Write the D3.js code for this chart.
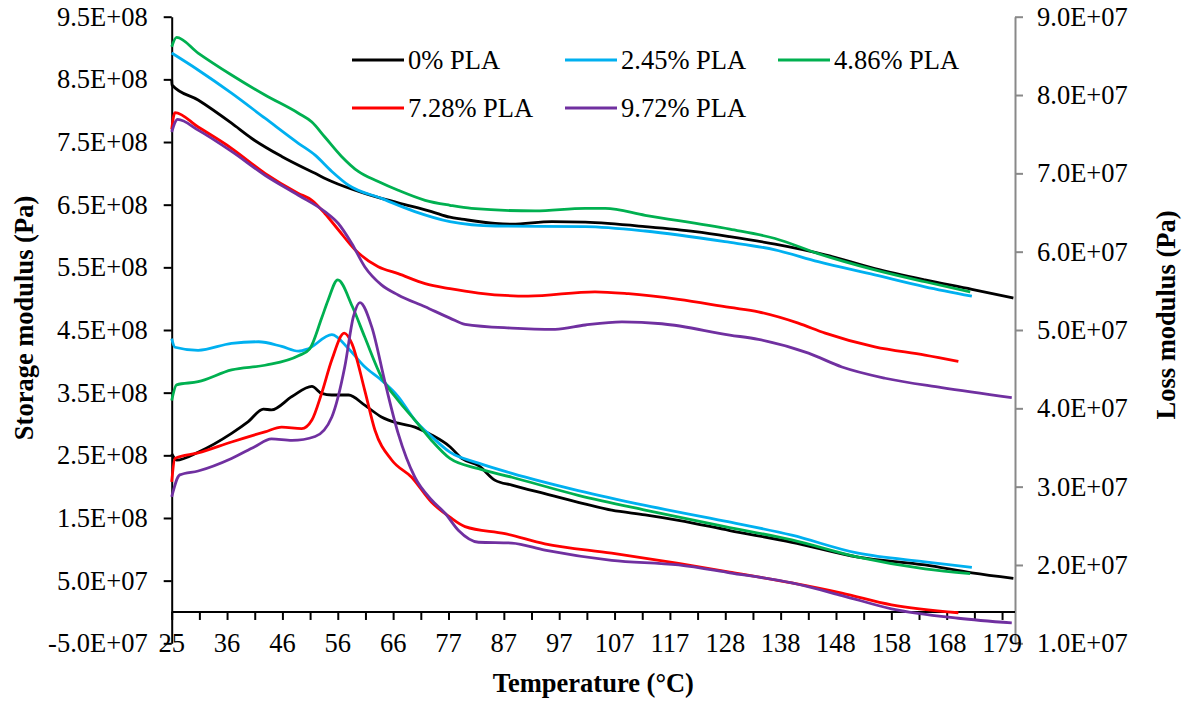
<!DOCTYPE html>
<html>
<head>
<meta charset="utf-8">
<script src="https://cdn.jsdelivr.net/npm/d3@7"></script>
<style>
  body { margin: 0; background: #fff; }
  text { font-family: "Liberation Serif", "Times New Roman", serif; }
</style>
</head>
<body>
<div id="chart"></div>
<script>
// category labels shown under the x axis
const xTickLabels = ["25","36","46","56","66","77","87","97","107","117","128","138","148","158","168","179"];

const seriesNames = ["0% PLA", "2.45% PLA", "4.86% PLA", "7.28% PLA", "9.72% PLA"];
const seriesColors = ["#000000", "#00B0F0", "#00B050", "#FF0000", "#7030A0"];

// storage modulus E' (Pa) vs temperature (°C)
const storage0 = [[25.0,8.49e8],[25.06,8.41e8],[29.9,8.17e8],[36.1,7.80e8],[39.8,7.56e8],[45.4,7.27e8],[51.6,7.00e8],[54.7,6.87e8],[60.8,6.68e8],[67.0,6.53e8],[73.2,6.39e8],[76.6,6.30e8],[78.8,6.27e8],[85.0,6.20e8],[88.1,6.19e8],[95.5,6.23e8],[101.7,6.22e8],[112.8,6.15e8],[122.1,6.07e8],[128.5,5.99e8],[136.9,5.87e8],[146.2,5.70e8],[155.4,5.48e8],[164.7,5.30e8],[173.4,5.15e8],[181.1,5.01e8]];
const storage245 = [[25.0,8.92e8],[29.9,8.65e8],[36.1,8.28e8],[42.3,7.88e8],[48.5,7.48e8],[51.6,7.29e8],[54.7,7.03e8],[57.8,6.81e8],[63.9,6.60e8],[70.1,6.39e8],[76.6,6.23e8],[85.0,6.16e8],[101.7,6.15e8],[112.8,6.08e8],[127.6,5.91e8],[136.9,5.78e8],[144.9,5.59e8],[155.4,5.38e8],[164.7,5.19e8],[173.4,5.04e8]];
const storage486 = [[25.0,9.02e8],[25.9,9.17e8],[29.9,8.92e8],[36.1,8.57e8],[42.3,8.25e8],[48.5,7.96e8],[51.0,7.82e8],[53.4,7.58e8],[56.5,7.27e8],[59.6,7.03e8],[63.3,6.87e8],[67.0,6.73e8],[72.0,6.57e8],[76.6,6.49e8],[80.6,6.44e8],[92.4,6.40e8],[101.7,6.44e8],[105.4,6.44e8],[112.8,6.33e8],[128.5,6.11e8],[136.9,5.96e8],[144.9,5.72e8],[155.4,5.46e8],[164.7,5.27e8],[173.1,5.11e8]];
const storage728 = [[25.0,7.70e8],[25.6,7.97e8],[29.9,7.74e8],[36.1,7.40e8],[42.3,7.00e8],[48.5,6.68e8],[51.0,6.57e8],[53.4,6.36e8],[55.9,6.10e8],[59.0,5.78e8],[63.3,5.51e8],[67.0,5.40e8],[72.0,5.24e8],[76.6,5.16e8],[81.9,5.09e8],[91.1,5.04e8],[103.5,5.11e8],[109.7,5.08e8],[119.0,4.99e8],[128.5,4.86e8],[133.8,4.79e8],[141.2,4.61e8],[146.2,4.45e8],[155.4,4.23e8],[164.7,4.10e8],[170.9,4.00e8]];
const storage972 = [[25.0,7.66e8],[26.1,7.86e8],[29.9,7.69e8],[36.1,7.35e8],[42.3,6.97e8],[48.5,6.65e8],[53.4,6.39e8],[55.9,6.20e8],[58.4,5.88e8],[60.8,5.51e8],[63.9,5.22e8],[67.0,5.06e8],[72.0,4.87e8],[76.6,4.69e8],[79.4,4.59e8],[88.1,4.53e8],[96.1,4.51e8],[101.7,4.58e8],[108.5,4.63e8],[115.9,4.60e8],[128.5,4.42e8],[133.8,4.35e8],[143.1,4.13e8],[149.3,3.91e8],[157.3,3.73e8],[167.8,3.58e8],[180.8,3.42e8]];

// loss modulus E'' (Pa) vs temperature (°C)
const loss0 = [[25.0,3.42e7],[25.9,3.34e7],[29.9,3.44e7],[36.1,3.68e7],[39.2,3.83e7],[42.0,3.99e7],[43.5,3.98e7],[47.3,4.15e7],[51.0,4.28e7],[52.8,4.19e7],[54.7,4.17e7],[57.8,4.17e7],[60.8,4.04e7],[63.9,3.89e7],[67.0,3.81e7],[70.1,3.76e7],[73.2,3.66e7],[76.6,3.51e7],[78.8,3.36e7],[81.9,3.27e7],[85.0,3.08e7],[88.1,3.02e7],[94.2,2.91e7],[100.4,2.80e7],[106.6,2.70e7],[112.8,2.64e7],[119.0,2.57e7],[128.5,2.44e7],[140.0,2.29e7],[152.3,2.10e7],[164.7,2.00e7],[173.4,1.90e7],[181.1,1.83e7]];
const loss245 = [[25.0,4.89e7],[25.6,4.78e7],[29.9,4.74e7],[36.1,4.83e7],[41.1,4.85e7],[45.4,4.79e7],[48.5,4.73e7],[50.3,4.76e7],[54.7,4.94e7],[57.8,4.76e7],[60.8,4.53e7],[63.9,4.36e7],[67.0,4.15e7],[70.1,3.85e7],[73.2,3.64e7],[76.6,3.44e7],[81.9,3.30e7],[88.1,3.17e7],[100.4,2.95e7],[112.8,2.76e7],[127.6,2.56e7],[140.0,2.38e7],[152.3,2.15e7],[164.7,2.04e7],[173.4,1.97e7]];
const loss486 = [[25.0,4.10e7],[25.9,4.30e7],[29.9,4.34e7],[36.1,4.49e7],[42.3,4.55e7],[48.5,4.67e7],[50.6,4.76e7],[52.8,5.15e7],[54.0,5.38e7],[55.8,5.64e7],[58.5,5.30e7],[60.8,4.91e7],[63.9,4.40e7],[67.0,4.10e7],[70.1,3.85e7],[73.2,3.59e7],[76.6,3.36e7],[81.9,3.23e7],[88.1,3.12e7],[100.4,2.89e7],[112.8,2.70e7],[127.6,2.49e7],[140.0,2.32e7],[152.3,2.10e7],[164.7,1.95e7],[173.1,1.89e7]];
const loss728 = [[25.0,3.06e7],[25.6,3.36e7],[29.9,3.43e7],[36.1,3.57e7],[42.3,3.70e7],[45.4,3.76e7],[49.1,3.74e7],[51.0,3.85e7],[52.8,4.19e7],[54.7,4.62e7],[57.0,4.96e7],[58.4,4.83e7],[60.8,4.23e7],[62.7,3.72e7],[65.8,3.34e7],[69.5,3.12e7],[73.2,2.80e7],[76.6,2.61e7],[79.4,2.49e7],[86.8,2.40e7],[94.2,2.27e7],[106.6,2.15e7],[119.0,2.02e7],[128.5,1.91e7],[140.0,1.77e7],[149.3,1.64e7],[158.5,1.49e7],[170.9,1.39e7]];
const loss972 = [[25.0,2.87e7],[26.5,3.15e7],[29.9,3.20e7],[36.1,3.36e7],[40.4,3.51e7],[43.5,3.61e7],[47.3,3.59e7],[51.6,3.64e7],[54.7,3.89e7],[57.1,4.53e7],[58.7,5.17e7],[59.9,5.35e7],[62.1,5.04e7],[64.6,4.32e7],[67.0,3.68e7],[70.1,3.12e7],[73.2,2.83e7],[75.7,2.66e7],[78.2,2.44e7],[81.9,2.29e7],[88.1,2.28e7],[94.2,2.19e7],[106.6,2.06e7],[119.0,2.00e7],[128.5,1.90e7],[140.0,1.77e7],[149.3,1.61e7],[158.5,1.44e7],[170.9,1.32e7],[180.8,1.26e7]];

const storageSeries = [storage0, storage245, storage486, storage728, storage972];
const lossSeries = [loss0, loss245, loss486, loss728, loss972];

const W = 1182, H = 702;
const plot = { left: 171.7, right: 1015, top: 16.7, bottom: 643.3 };
const fontSize = 26.5;

const svg = d3.select("#chart")
  .append("svg")
  .attr("width", W)
  .attr("height", H);

// scales
const x = d3.scaleLinear().domain([25, 181.4]).range([plot.left, plot.right]);
const yL = d3.scaleLinear().domain([-0.5e8, 9.5e8]).range([plot.bottom, plot.top]);
const yR = d3.scaleLinear().domain([1e7, 9e7]).range([plot.bottom, plot.top]);

// 9.5E+08 style labels
function sci(v) {
  const parts = v.toExponential(1).split("e");
  const n = +parts[1];
  return parts[0].toUpperCase() + "E" + (n < 0 ? "-" : "+") + String(Math.abs(n)).padStart(2, "0");
}

const leftTicks = d3.range(11).map(i => -5e7 + i * 1e8);
const rightTicks = d3.range(9).map(i => 1e7 + i * 1e7);
const span = 179 - 25;
const labelTicks = d3.range(xTickLabels.length).map(i => 25 + i * span / (xTickLabels.length - 1));
const minorTicks = d3.range(2 * (xTickLabels.length - 1) + 1).map(i => 25 + i * span / (2 * (xTickLabels.length - 1)));

// left axis
const gL = svg.append("g")
  .attr("transform", `translate(${plot.left},0)`)
  .call(d3.axisLeft(yL).tickValues(leftTicks).tickFormat(sci).tickSize(8).tickSizeOuter(0).tickPadding(16));
gL.selectAll("text").attr("font-family", "Liberation Serif").attr("font-size", fontSize).attr("fill", "#000");
gL.selectAll("line, path").attr("stroke", "#000").attr("stroke-width", 2);

// right axis (grey)
const gR = svg.append("g")
  .attr("transform", `translate(${plot.right},0)`)
  .call(d3.axisRight(yR).tickValues(rightTicks).tickFormat(sci).tickSize(8).tickSizeOuter(0).tickPadding(14));
gR.selectAll("text").attr("font-family", "Liberation Serif").attr("font-size", fontSize).attr("fill", "#000");
gR.selectAll("line, path").attr("stroke", "#898989").attr("stroke-width", 2);

// x axis crosses at zero of the left axis
const gX = svg.append("g")
  .attr("transform", `translate(0,${yL(0)})`)
  .call(d3.axisBottom(x).tickValues(minorTicks).tickFormat("").tickSize(8).tickSizeOuter(0));
gX.select("path").attr("d", `M${plot.left},0H${plot.right}`);
gX.selectAll("line, path").attr("stroke", "#000").attr("stroke-width", 2);

// category labels sit at the bottom of the plot area
svg.append("g").selectAll("text")
  .data(labelTicks)
  .join("text")
  .attr("x", d => x(d))
  .attr("y", plot.bottom + 8.5)
  .attr("text-anchor", "middle")
  .attr("font-size", fontSize)
  .text((d, i) => xTickLabels[i]);

// lines
const lineL = d3.line().x(d => x(d[0])).y(d => yL(d[1])).curve(d3.curveMonotoneX);
const lineR = d3.line().x(d => x(d[0])).y(d => yR(d[1])).curve(d3.curveMonotoneX);

svg.append("g").selectAll("path")
  .data(storageSeries)
  .join("path")
  .attr("fill", "none")
  .attr("stroke", (d, i) => seriesColors[i])
  .attr("stroke-width", 2.8)
  .attr("stroke-linejoin", "round")
  .attr("d", lineL);

svg.append("g").selectAll("path")
  .data(lossSeries)
  .join("path")
  .attr("fill", "none")
  .attr("stroke", (d, i) => seriesColors[i])
  .attr("stroke-width", 2.8)
  .attr("stroke-linejoin", "round")
  .attr("d", lineR);

// axis titles
svg.append("text")
  .attr("transform", `translate(${(plot.left + plot.right) / 2},692)`)
  .attr("text-anchor", "middle")
  .attr("font-weight", "bold")
  .attr("font-size", fontSize)
  .text("Temperature (°C)");

svg.append("text")
  .attr("transform", "translate(33,318) rotate(-90)")
  .attr("text-anchor", "middle")
  .attr("font-weight", "bold")
  .attr("font-size", fontSize)
  .text("Storage modulus (Pa)");

svg.append("text")
  .attr("transform", "translate(1175,315) rotate(-90)")
  .attr("text-anchor", "middle")
  .attr("font-weight", "bold")
  .attr("font-size", fontSize)
  .text("Loss modulus (Pa)");

// legend: 3 columns, 2 rows
const legendCols = [352, 565, 778];
const legendRows = [60, 108];
const legend = svg.append("g").selectAll("g")
  .data(seriesNames)
  .join("g")
  .attr("transform", (d, i) => `translate(${legendCols[i % 3]},${legendRows[Math.floor(i / 3)]})`);

legend.append("line")
  .attr("x1", 0).attr("x2", 52)
  .attr("stroke", (d, i) => seriesColors[i])
  .attr("stroke-width", 2.8);

legend.append("text")
  .attr("x", 56)
  .attr("dy", "0.35em")
  .attr("font-size", fontSize)
  .text(d => d);
</script>
</body>
</html>
